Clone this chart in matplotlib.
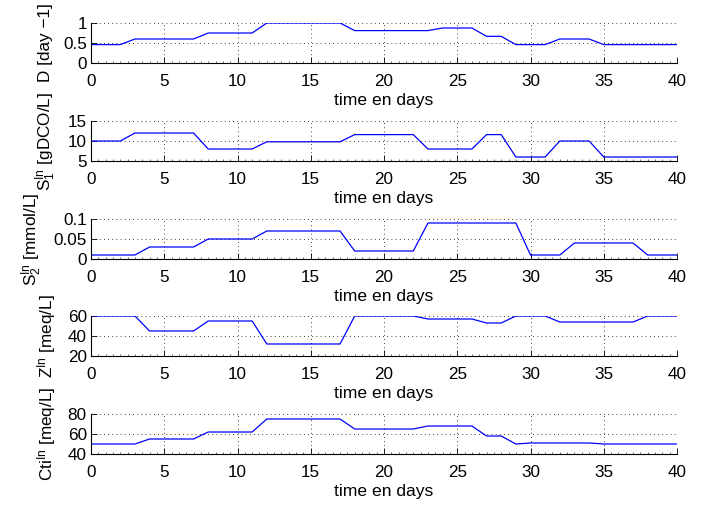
import numpy as np
import matplotlib
matplotlib.use('Agg')
import matplotlib.pyplot as plt
from matplotlib.ticker import MultipleLocator

plt.rcParams['font.family'] = ['Liberation Sans', 'DejaVu Sans']
plt.rcParams['mathtext.fontset'] = 'custom'
plt.rcParams['mathtext.rm'] = 'Liberation Sans'
plt.rcParams['mathtext.it'] = 'Liberation Sans'

# daily values, day 0..40
days = np.arange(0, 41)
D = [0.46]*3 + [0.6]*5 + [0.75]*4 + [1.0]*6 + [0.81]*6 + [0.875]*3 + [0.667]*2 + [0.46]*3 + [0.6]*3 + [0.46]*6
S1 = [10]*3 + [12]*5 + [8]*4 + [9.8]*6 + [11.6]*5 + [8]*4 + [11.6]*2 + [6]*3 + [10]*3 + [6]*6
S2 = [0.01]*4 + [0.03]*4 + [0.05]*4 + [0.07]*6 + [0.02]*5 + [0.09]*7 + [0.01]*3 + [0.04]*5 + [0.01]*3
Z = [60]*4 + [45]*4 + [55]*4 + [32]*6 + [60]*5 + [57]*4 + [53]*2 + [60]*3 + [54]*6 + [60]*3
Cti = [50]*4 + [55]*4 + [62]*4 + [75]*6 + [65]*5 + [68]*4 + [58]*2 + [50] + [51]*5 + [50]*6

series = [D, S1, S2, Z, Cti]
ylabels = ['D [day \u22121]',
           r'$\mathrm{S}_1^{\mathrm{In}}$ [gDCO/L]',
           r'$\mathrm{S}_2^{\mathrm{In}}$ [mmol/L]',
           r'$\mathrm{Z}^{\mathrm{In}}$ [meq/L]',
           r'$\mathrm{Cti}^{\mathrm{In}}$ [meq/L]']
ylims = [(0, 1), (5, 15), (0, 0.1), (20, 60), (40, 80)]
yticks = [[0, 0.5, 1], [5, 10, 15], [0, 0.05, 0.1], [20, 40, 60], [40, 60, 80]]
yticklabels = [['0', '0.5', '1'], ['5', '10', '15'], ['0', '0.05', '0.1'],
               ['20', '40', '60'], ['40', '60', '80']]

W, H = 704, 507
fs = 12.3
fig = plt.figure(figsize=(W/100, H/100), dpi=100)
tops = [23, 121, 219, 316, 414]
for i in range(5):
    top = tops[i]
    ax = fig.add_axes([91/W, 1 - (top + 40)/H, 586/W, 40/H])
    ax.plot(days, series[i], color='blue', lw=0.9)
    ax.set_xlim(0, 40)
    ax.set_ylim(*ylims[i])
    ax.set_xticks(range(0, 41, 5))
    ax.set_yticks(yticks[i])
    ax.set_yticklabels(yticklabels[i])
    ax.xaxis.set_minor_locator(MultipleLocator(0.5))
    ax.spines['top'].set_visible(False)
    ax.spines['right'].set_visible(False)
    ax.spines['left'].set_linewidth(0.8)
    ax.spines['bottom'].set_linewidth(0.8)
    ax.grid(True, which='major', linestyle=(0, (1, 4)), color='black', lw=0.6)
    ax.tick_params(axis='x', which='major', direction='in', length=4, width=0.6, pad=8, labelsize=fs)
    ax.tick_params(axis='x', which='minor', direction='in', length=1.5, width=0.4)
    ax.tick_params(axis='y', which='major', direction='in', length=4, width=0.6, pad=3, labelsize=fs)
    ax.set_xlabel('time en days', fontsize=fs + 0.3, labelpad=3)
    ax.set_ylabel(ylabels[i], fontsize=fs, labelpad=7)
    ax.set_axisbelow(True)

fig.savefig('out.png', dpi=100)
